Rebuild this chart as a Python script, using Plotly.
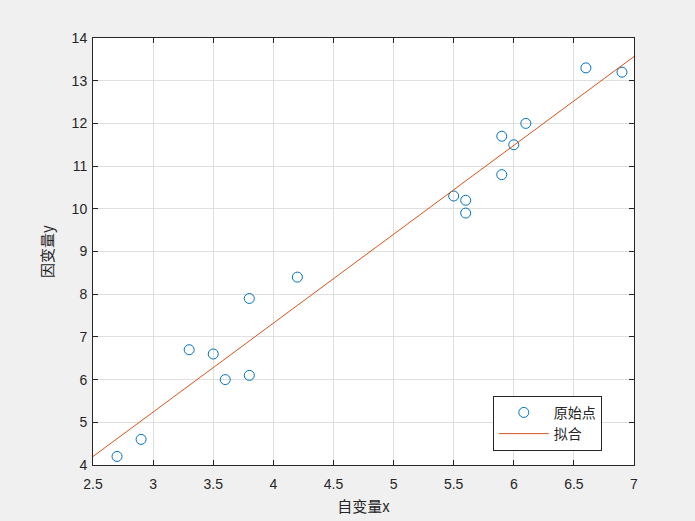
import numpy as np
import plotly.graph_objects as go

x_data = [2.7, 2.9, 3.3, 3.5, 3.6, 3.8, 3.8, 4.2, 5.5, 5.6, 5.6, 5.9, 5.9, 6.0, 6.1, 6.6, 6.9]
y_data = [4.2, 4.6, 6.7, 6.6, 6.0, 7.9, 6.1, 8.4, 10.3, 10.2, 9.9, 11.7, 10.8, 11.5, 12.0, 13.3, 13.2]
x_range = [2.5, 7.0]
y_range = [4, 14]

slope, intercept = np.polyfit(x_data, y_data, 1)
fit_x = np.linspace(x_range[0], x_range[1], 50)
fit_y = slope * fit_x + intercept

CJK = "Noto Sans CJK SC"
TICKF = "Liberation Sans, Arial"

fig = go.Figure()
fig.add_trace(go.Scatter(
    x=x_data, y=y_data, mode="markers", name="原始点",
    marker=dict(symbol="circle-open", size=10, color="#0072BD", line=dict(width=1, color="#0072BD")),
))
fig.add_trace(go.Scatter(
    x=fit_x, y=fit_y, mode="lines", name="拟合",
    line=dict(color="#D95319", width=1),
))

axis_common = dict(
    showline=True, linecolor="#262626", linewidth=1, mirror="ticks",
    ticks="inside", ticklen=5, tickcolor="#262626",
    showgrid=True, gridcolor="#dfdfdf", gridwidth=1,
    zeroline=False, automargin=False,
    tickfont=dict(family=TICKF, size=14, color="#262626"),
)

fig.update_xaxes(range=x_range, dtick=0.5, tick0=2.5, ticklabelstandoff=6,
                 title=dict(text="自变量x", font=dict(family=CJK, size=15, color="#262626"), standoff=10),
                 **axis_common)
fig.update_yaxes(range=y_range, dtick=1, ticklabelstandoff=2,
                 title=dict(text="因变量y", font=dict(family=CJK, size=15, color="#262626"), standoff=14),
                 **axis_common)

fig.update_layout(
    width=695, height=521,
    margin=dict(l=93, r=61, t=38, b=56),
    paper_bgcolor="#f0f0f0", plot_bgcolor="white",
    showlegend=True,
    legend=dict(
        x=0.739, y=0.162, xanchor="left", yanchor="top",
        bgcolor="white", bordercolor="#262626", borderwidth=1,
        font=dict(family=CJK, size=14, color="#262626"),
        itemwidth=50, tracegroupgap=0,
    ),
)

fig.write_html("out.html", config={"displayModeBar": False},
               post_script="document.body.style.margin='0';document.body.style.background='#f0f0f0';")
